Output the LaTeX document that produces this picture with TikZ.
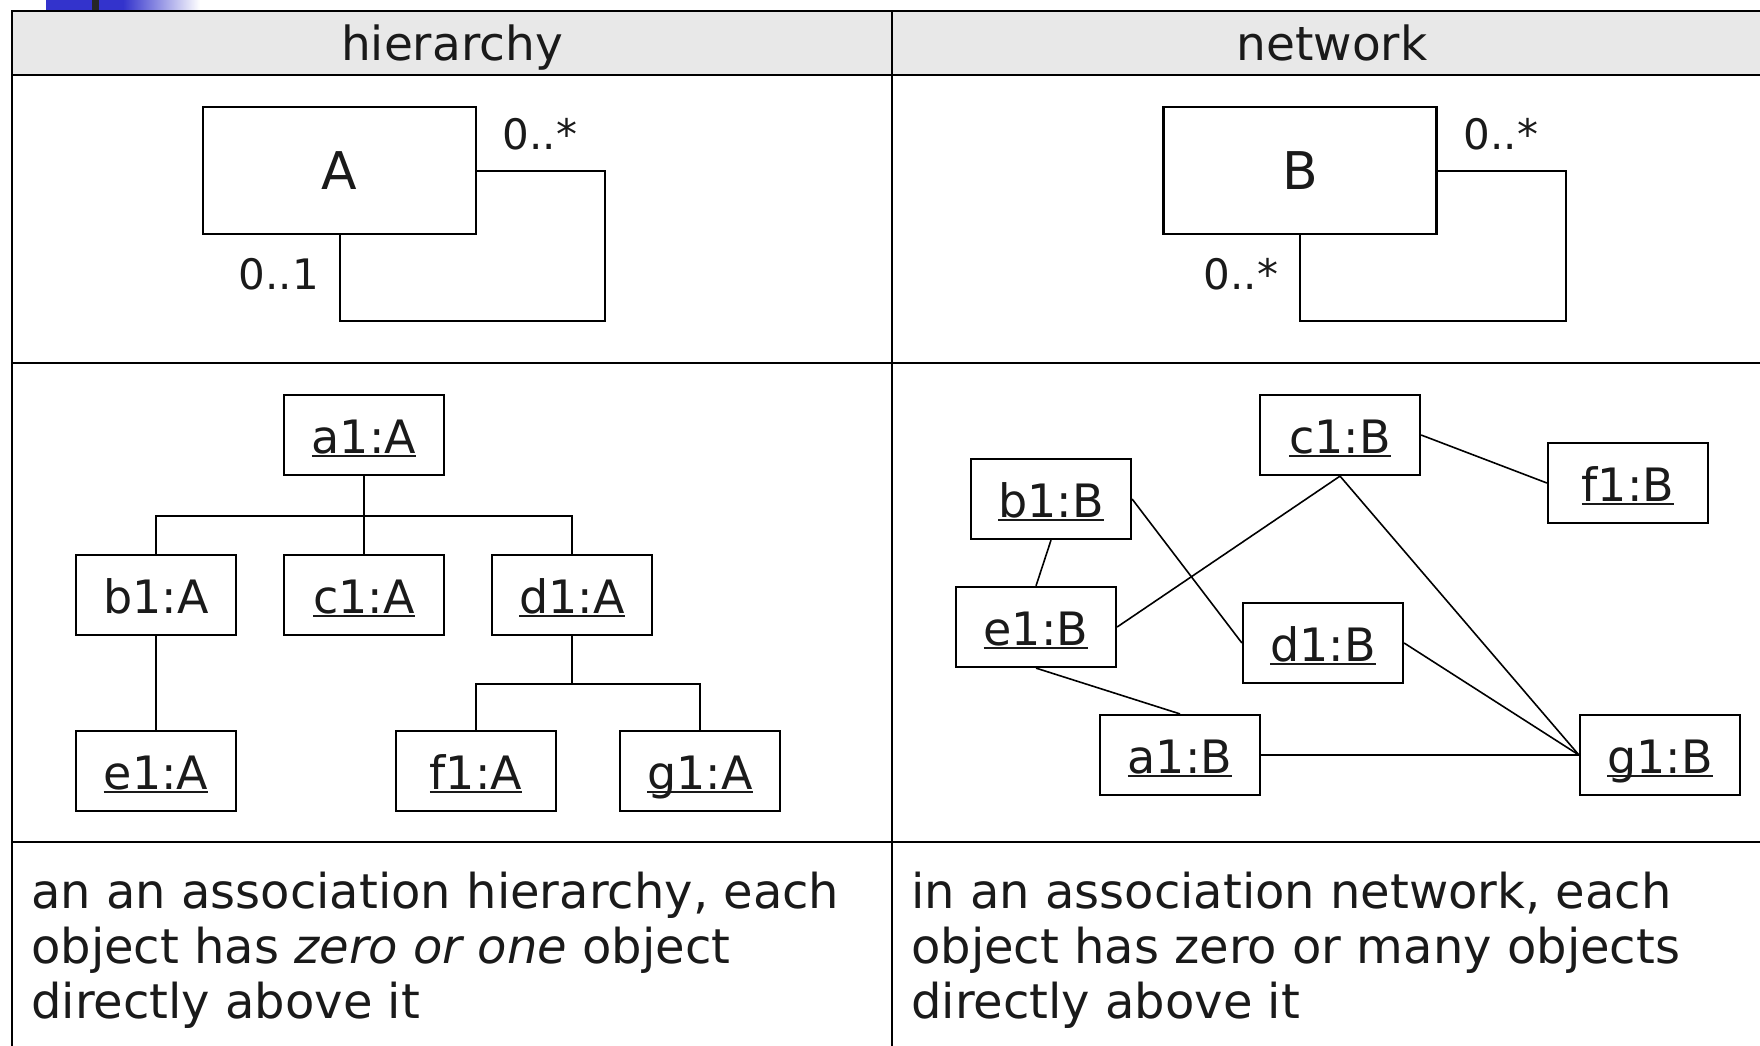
\documentclass[tikz,border=0pt]{standalone}
\usepackage{fontspec}
\setmainfont{DejaVu Sans}
\usetikzlibrary{calc}
\definecolor{inkgray}{RGB}{26,26,26}
\definecolor{headgray}{RGB}{232,232,232}
\definecolor{decoblue}{RGB}{51,51,204}
% underlined object name with a fixed rule just under the baseline
\newcommand\objul[1]{\setbox0\hbox{#1}\rlap{\rule[-0.09em]{\wd0}{0.05em}}\box0}
\begin{document}
\begin{tikzpicture}[x=1pt,y=-1pt,
  every node/.style={text=inkgray},
  grid/.style={line width=2.6pt},
  head/.style={anchor=base,inner sep=0,font=\fontsize{47}{55}\selectfont},
  classbox/.style={draw,line width=2.4pt,minimum width=273pt,minimum height=127pt,
    inner sep=0,text height=38pt,text depth=0pt,font=\fontsize{52}{60}\selectfont},
  selfloop/.style={line width=2pt},
  mult/.style={inner sep=0,font=\fontsize{42}{50}\selectfont},
  objbox/.style={draw,line width=2.2pt,minimum width=160pt,minimum height=80pt,
    inner sep=0,text height=36pt,text depth=0pt,font=\fontsize{46}{54}\selectfont},
  link/.style={line width=2.2pt},
  netlink/.style={line width=1.6pt},
  para/.style={anchor=north west,inner sep=0,align=left,font=\fontsize{48}{55}\selectfont}]
\useasboundingbox (0,0) rectangle (1760,1045);
\clip (0,0) rectangle (1760,1045);

% title bar ornament
\fill[decoblue] (46,0) rectangle (123,10);
\shade[left color=decoblue,right color=white] (123,0) rectangle (200,10);
\fill[black!85] (92,0) rectangle (99,10);

% table
\fill[headgray] (12,11) rectangle (1772,75);
\draw[grid] (12,1070) -- (12,11) -- (1772,11) -- (1772,1070);
\draw[grid] (12,75) -- (1772,75);
\draw[grid] (12,363) -- (1772,363);
\draw[grid] (12,842) -- (1772,842);
\draw[grid] (892,11) -- (892,1070);

\node[head] (hhead) at (452,60) {hierarchy};
\node[head] (nhead) at (1332,60) {network};

% class diagrams
\node[classbox] (clA) at (339.5,170.5) {A};
\draw[selfloop] (clA.east) -- ++(128,0) -- ++(0,150) -| (clA.south);
\node[mult] (mA1) at (540,134) {0..*};
\node[mult] (mA2) at (279,274) {0..1};

\node[classbox] (clB) at (1300,170.5) {B};
\draw[selfloop] (clB.east) -- ++(128,0) -- ++(0,150) -| (clB.south);
\node[mult] (mB1) at (1501,134) {0..*};
\node[mult] (mB2) at (1241,274) {0..*};

% hierarchy of objects
\node[objbox] (ha) at (364,435) {\objul{a1:A}};
\node[objbox] (hb) at (156,595) {b1:A};
\node[objbox] (hc) at (364,595) {\objul{c1:A}};
\node[objbox] (hd) at (572,595) {\objul{d1:A}};
\node[objbox] (he) at (156,771) {\objul{e1:A}};
\node[objbox] (hf) at (476,771) {\objul{f1:A}};
\node[objbox] (hg) at (700,771) {\objul{g1:A}};

\coordinate (hj) at ($(ha.south)+(0,40)$);
\coordinate (hk) at ($(hd.south)+(0,48)$);
\draw[link] (ha.south) -- (hj);
\draw[link] (hc.north) -- (hj);
\draw[link] (hb.north) |- (hj) -| (hd.north);
\draw[link] (hb.south) -- (he.north);
\draw[link] (hd.south) -- (hk);
\draw[link] (hf.north) |- (hk) -| (hg.north);

% network of objects
\node[objbox] (nc) at (1340,435) {\objul{c1:B}};
\node[objbox] (nf) at (1628,483) {\objul{f1:B}};
\node[objbox] (nb) at (1051,499) {\objul{b1:B}};
\node[objbox] (ne) at (1036,627) {\objul{e1:B}};
\node[objbox] (nd) at (1323,643) {\objul{d1:B}};
\node[objbox] (na) at (1180,755) {\objul{a1:B}};
\node[objbox] (ng) at (1660,755) {\objul{g1:B}};

\draw[netlink] (nc.east) -- (nf.west);
\draw[netlink] (nb.east) -- (nd.west);
\draw[netlink] (nb.south) -- (ne.north);
\draw[netlink] (ne.east) -- (nc.south);
\draw[netlink] (nc.south) -- (ng.west);
\draw[netlink] (nd.east) -- (ng.west);
\draw[netlink] (ne.south) -- (na.north);
\draw[netlink] (na.east) -- (ng.west);

% captions
\node[para] (hcap) at (31,871.5) {an an association hierarchy, each\\object has \textit{zero or one} object\\directly above it};
\node[para] (ncap) at (911,871.5) {in an association network, each\\object has zero or many objects\\directly above it};
\end{tikzpicture}
\end{document}
